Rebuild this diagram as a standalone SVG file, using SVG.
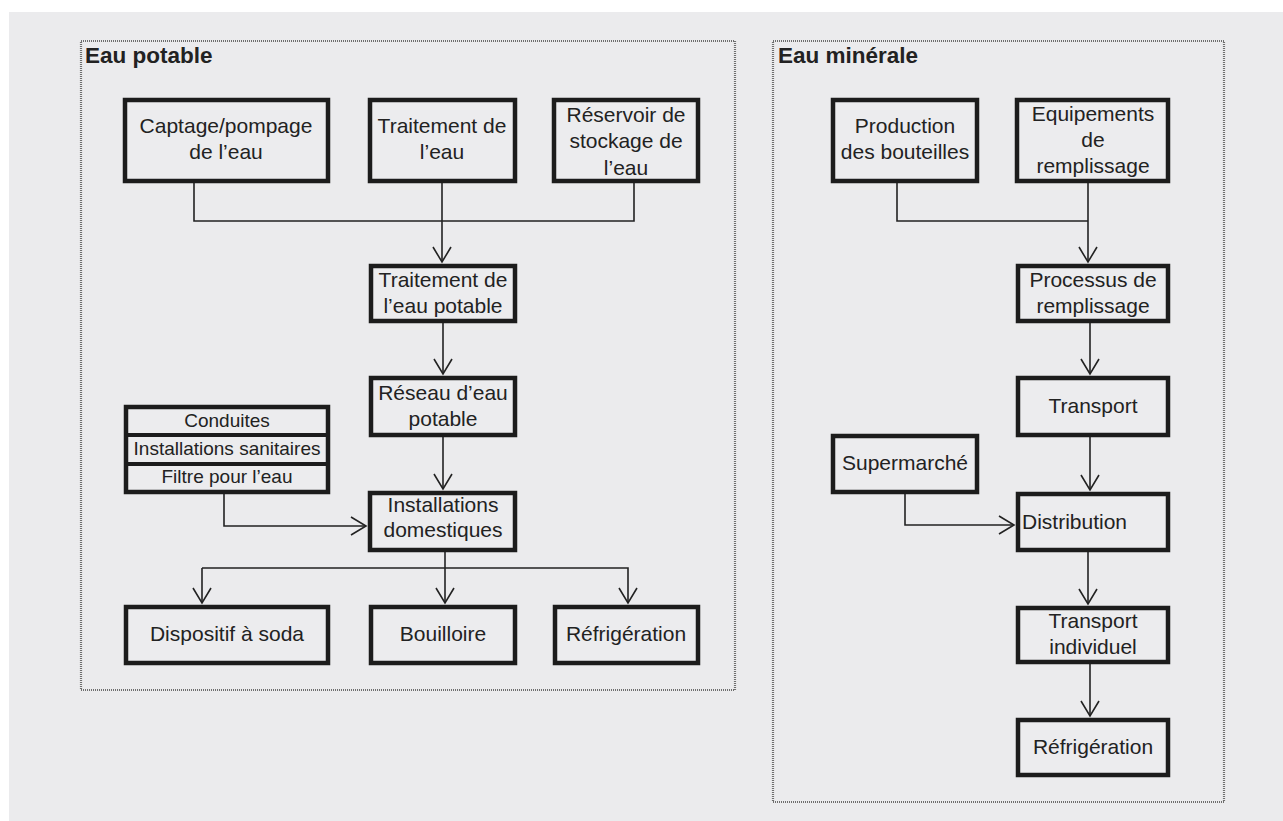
<svg xmlns="http://www.w3.org/2000/svg" width="1283" height="821" viewBox="0 0 1283 821">
<defs>
<style>
.bg{fill:#ffffff}
.panel{fill:#ebebed}
.frame{fill:none;stroke:#6e6e6e;stroke-width:2.2;stroke-dasharray:1 1}
.box rect{fill:#ececee;stroke:#1c1c1c;stroke-width:4.5}
.box text, .stack text{font-family:"Liberation Sans",Arial,Helvetica,sans-serif;font-size:21px;fill:#222;text-anchor:middle}
.stack text{font-size:19px}
.stack rect{fill:#ececee;stroke:#1c1c1c;stroke-width:4.5}
.title{font-family:"Liberation Sans",Arial,Helvetica,sans-serif;font-size:22.5px;font-weight:bold;fill:#222}
.conn path{fill:none;stroke:#222;stroke-width:1.6}
.arr{marker-end:url(#open)}
</style>
<marker id="open" viewBox="-17 -11 19 22" refX="0" refY="0" markerWidth="19" markerHeight="22" markerUnits="userSpaceOnUse" orient="auto">
<path d="M-15,-9 L0,0 L-15,9" fill="none" stroke="#222" stroke-width="1.6"/>
</marker>
</defs>
<rect class="bg" x="0" y="0" width="1283" height="821"/>
<rect class="panel" x="9" y="12" width="1274" height="809"/>

<g id="panel-eau-potable">
<rect class="frame" x="81" y="41" width="654" height="649"/>
<text class="title" x="85" y="63">Eau potable</text>
</g>
<g id="panel-eau-minerale">
<rect class="frame" x="773" y="41" width="451" height="761"/>
<text class="title" x="778" y="63">Eau minérale</text>
</g>

<g class="conn" id="connectors">
<path d="M194,183 V221 H634 V183"/>
<path class="arr" d="M442,183 V262"/>
<path class="arr" d="M443,323 V374"/>
<path class="arr" d="M443,437 V489"/>
<path class="arr" d="M224,494 V526 H366"/>
<path d="M445,552 V568"/>
<path class="arr" d="M202,568 H628 V603"/>
<path class="arr" d="M202,568 V603"/>
<path class="arr" d="M445,568 V603"/>
<path d="M897,183 V221 H1088"/>
<path class="arr" d="M1088,183 V262"/>
<path class="arr" d="M1090,323 V374"/>
<path class="arr" d="M1090,437 V490"/>
<path class="arr" d="M905,494 V525 H1014"/>
<path class="arr" d="M1088,552 V604"/>
<path class="arr" d="M1090,664 V716"/>
</g>

<g class="box" id="captage">
<rect x="125" y="100" width="203" height="81"/>
<text x="226" y="133">Captage/pompage</text>
<text x="226" y="159">de l’eau</text>
</g>
<g class="box" id="traitement-eau">
<rect x="370" y="100" width="145" height="81"/>
<text x="442" y="133">Traitement de</text>
<text x="442" y="159">l’eau</text>
</g>
<g class="box" id="reservoir">
<rect x="554" y="100" width="144" height="81"/>
<text x="626" y="122">Réservoir de</text>
<text x="626" y="148">stockage de</text>
<text x="626" y="175">l’eau</text>
</g>
<g class="box" id="traitement-potable">
<rect x="371" y="266" width="144" height="55"/>
<text x="443" y="287">Traitement de</text>
<text x="443" y="313">l’eau potable</text>
</g>
<g class="box" id="reseau">
<rect x="371" y="378" width="144" height="57"/>
<text x="443" y="400">Réseau d’eau</text>
<text x="443" y="426">potable</text>
</g>
<g class="stack" id="materiaux">
<rect x="126" y="407" width="202" height="85"/>
<path d="M126,435 H328 M126,464 H328" stroke="#1c1c1c" stroke-width="4" fill="none"/>
<text x="227" y="427">Conduites</text>
<text x="227" y="455">Installations sanitaires</text>
<text x="227" y="483">Filtre pour l’eau</text>
</g>
<g class="box" id="installations">
<rect x="370" y="493" width="145" height="57"/>
<text x="443" y="512">Installations</text>
<text x="443" y="537">domestiques</text>
</g>
<g class="box" id="soda">
<rect x="126" y="607" width="202" height="56"/>
<text x="227" y="641">Dispositif à soda</text>
</g>
<g class="box" id="bouilloire">
<rect x="371" y="607" width="144" height="56"/>
<text x="443" y="641">Bouilloire</text>
</g>
<g class="box" id="refrigeration-1">
<rect x="555" y="607" width="143" height="56"/>
<text x="626" y="641">Réfrigération</text>
</g>

<g class="box" id="production">
<rect x="833" y="100" width="144" height="81"/>
<text x="905" y="133">Production</text>
<text x="905" y="159">des bouteilles</text>
</g>
<g class="box" id="equipements">
<rect x="1017" y="100" width="151" height="81"/>
<text x="1093" y="121">Equipements</text>
<text x="1093" y="147">de</text>
<text x="1093" y="173">remplissage</text>
</g>
<g class="box" id="processus">
<rect x="1018" y="266" width="150" height="55"/>
<text x="1093" y="287">Processus de</text>
<text x="1093" y="313">remplissage</text>
</g>
<g class="box" id="transport">
<rect x="1018" y="378" width="150" height="57"/>
<text x="1093" y="413">Transport</text>
</g>
<g class="box" id="supermarche">
<rect x="833" y="436" width="144" height="56"/>
<text x="905" y="470">Supermarché</text>
</g>
<g class="box" id="distribution">
<rect x="1018" y="494" width="150" height="56"/>
<text x="1022" y="529" style="text-anchor:start">Distribution</text>
</g>
<g class="box" id="transport-individuel">
<rect x="1018" y="608" width="150" height="54"/>
<text x="1093" y="628">Transport</text>
<text x="1093" y="654">individuel</text>
</g>
<g class="box" id="refrigeration-2">
<rect x="1018" y="720" width="150" height="55"/>
<text x="1093" y="754">Réfrigération</text>
</g>
</svg>
